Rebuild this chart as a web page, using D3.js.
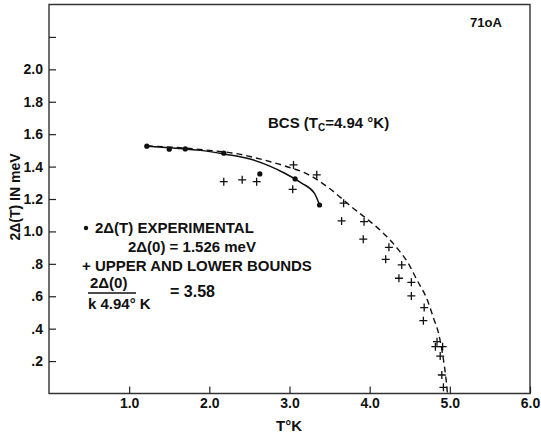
<!DOCTYPE html>
<html>
<head>
<meta charset="utf-8">
<style>
 body { margin: 0; background: #fff; }
 svg { background: #fff; font-family: "Liberation Sans", Arial, sans-serif; }
 .lbl { font-size: 15px; fill: #111; font-weight: bold; }
 .tick text { font-size: 14px; fill: #111; font-weight: bold; }
 .tick line { stroke: #222; stroke-width: 1.2px; }
 .frame { fill: none; stroke: #333; stroke-width: 1.4px; }
</style>
</head>
<body>
<svg width="541" height="436"></svg>
<script src="https://d3js.org/d3.v7.min.js"></script>
<script>

// experimental gap (dots)
var expT   = [1.22, 1.50, 1.70, 2.18, 2.63, 3.07, 3.375];
var expGap = [1.526, 1.507, 1.509, 1.483, 1.355, 1.324, 1.163];

// solid line through the experimental points
var fitT   = [1.22, 1.50, 1.70, 1.89, 2.18, 2.52, 2.94, 3.15, 3.31, 3.375];
var fitGap = [1.526, 1.516, 1.508, 1.500, 1.478, 1.445, 1.359, 1.298, 1.236, 1.163];

// BCS curve (dashed), Tc = 4.94 K
var bcsT   = [1.22, 1.60, 2.00, 2.30, 2.64, 2.94, 3.23, 3.50, 3.77, 3.98, 4.15, 4.36, 4.48, 4.59, 4.71, 4.80, 4.86, 4.92, 4.95, 4.97];
var bcsGap = [1.527, 1.518, 1.500, 1.483, 1.446, 1.404, 1.352, 1.265, 1.153, 1.071, 0.999, 0.886, 0.804, 0.700, 0.588, 0.46, 0.37, 0.21, 0.10, 0.0];

// upper and lower bounds (crosses)
var bndT   = [2.18, 2.41, 2.59, 3.05, 3.04, 3.34, 3.675, 3.65, 3.93, 3.92, 4.24, 4.20, 4.40, 4.365, 4.52, 4.52, 4.68, 4.67, 4.84, 4.82, 4.91, 4.88, 4.90, 4.92];
var bndGap = [1.307, 1.318, 1.307, 1.41, 1.26, 1.349, 1.174, 1.065, 1.06, 0.952, 0.902, 0.828, 0.793, 0.711, 0.686, 0.602, 0.53, 0.449, 0.32, 0.289, 0.289, 0.231, 0.114, 0.038];

// ticks
var xTicks = [1, 2, 3, 4, 5, 6];
var xTickLabels = ["1.0", "2.0", "3.0", "4.0", "5.0", "6.0"];
var yTicks = [0.2, 0.4, 0.6, 0.8, 1.0, 1.2, 1.4, 1.6, 1.8, 2.0, 2.2];
var yTickLabels = [".2", ".4", ".6", ".8", "1.0", "1.2", "1.4", "1.6", "1.8", "2.0", ""];

var svg = d3.select("svg");

var x = d3.scaleLinear().domain([0, 6]).range([49, 530]);
var y = d3.scaleLinear().domain([0, 2.4]).range([393.5, 4.5]);

// frame
svg.append("path")
    .attr("class", "frame")
    .attr("d", "M" + x(0) + "," + y(2.4) + "H" + x(6) + "V" + y(0) + "H" + x(0) + "Z");

var xAxis = d3.axisBottom(x)
    .tickValues(xTicks)
    .tickSizeInner(-7)
    .tickSizeOuter(0)
    .tickPadding(5)
    .tickFormat(function(d, i){ return xTickLabels[i]; });

var yAxis = d3.axisLeft(y)
    .tickValues(yTicks)
    .tickSizeInner(-7)
    .tickSizeOuter(0)
    .tickPadding(6)
    .tickFormat(function(d, i){ return yTickLabels[i]; });

var xg = svg.append("g").attr("transform", "translate(0," + y(0) + ")").call(xAxis);
xg.select(".domain").remove();
xg.selectAll("text").attr("font-family", null);

var yg = svg.append("g").attr("transform", "translate(" + x(0) + ",0)").call(yAxis);
yg.select(".domain").remove();
yg.selectAll("text").attr("font-family", null);

// axis titles
svg.append("text").attr("class", "lbl")
    .attr("x", 289).attr("y", 431)
    .attr("text-anchor", "middle")
    .text("T°K");

svg.append("text").attr("class", "lbl")
    .attr("transform", "translate(20,197) rotate(-90)")
    .attr("text-anchor", "middle")
    .style("font-size", "14px")
    .text("2Δ(T) IN meV");

svg.append("text").attr("class", "lbl")
    .attr("x", 470).attr("y", 27)
    .style("font-size", "13px")
    .text("71oA");

// curves
var line = d3.line()
    .x(function(d){ return x(d[0]); })
    .y(function(d){ return y(d[1]); })
    .curve(d3.curveMonotoneX);

svg.append("path")
    .datum(d3.zip(bcsT, bcsGap))
    .attr("d", line)
    .attr("fill", "none")
    .attr("stroke", "#111")
    .attr("stroke-width", 1.4)
    .attr("stroke-dasharray", "6,4");

svg.append("path")
    .datum(d3.zip(fitT, fitGap))
    .attr("d", line)
    .attr("fill", "none")
    .attr("stroke", "#111")
    .attr("stroke-width", 1.5);

svg.selectAll(".dot")
    .data(d3.zip(expT, expGap))
    .enter().append("circle")
    .attr("class", "dot")
    .attr("cx", function(d){ return x(d[0]); })
    .attr("cy", function(d){ return y(d[1]); })
    .attr("r", 2.6)
    .attr("fill", "#111");

var cs = 4;
svg.selectAll(".cross")
    .data(d3.zip(bndT, bndGap))
    .enter().append("path")
    .attr("class", "cross")
    .attr("d", function(d){
        var cx = x(d[0]), cy = y(d[1]);
        return "M" + (cx - cs) + "," + cy + "H" + (cx + cs) + "M" + cx + "," + (cy - cs) + "V" + (cy + cs);
    })
    .attr("stroke", "#111")
    .attr("stroke-width", 1.3);

// BCS label
var bcs = svg.append("text").attr("class", "lbl").attr("x", 268).attr("y", 128);
bcs.append("tspan").text("BCS (T");
bcs.append("tspan").attr("dy", 3).style("font-size", "10px").text("C");
bcs.append("tspan").attr("dy", -3).text("=4.94 °K)");

// legend
svg.append("circle").attr("cx", 86).attr("cy", 228).attr("r", 2.2).attr("fill", "#111");
svg.append("text").attr("class", "lbl").attr("x", 95).attr("y", 233).text("2Δ(T) EXPERIMENTAL");
svg.append("text").attr("class", "lbl").attr("x", 128).attr("y", 252).text("2Δ(0) = 1.526 meV");
svg.append("text").attr("class", "lbl").attr("x", 82).attr("y", 271).text("+ UPPER AND LOWER BOUNDS");
svg.append("text").attr("class", "lbl").attr("x", 90).attr("y", 288).text("2Δ(0)");
svg.append("line").attr("x1", 88).attr("x2", 136).attr("y1", 293).attr("y2", 293)
    .attr("stroke", "#111").attr("stroke-width", 1.4);
svg.append("text").attr("class", "lbl").attr("x", 88).attr("y", 309).text("k 4.94° K");
svg.append("text").attr("class", "lbl").attr("x", 170).attr("y", 297).style("font-size", "16px").text("= 3.58");

</script>
</body>
</html>
